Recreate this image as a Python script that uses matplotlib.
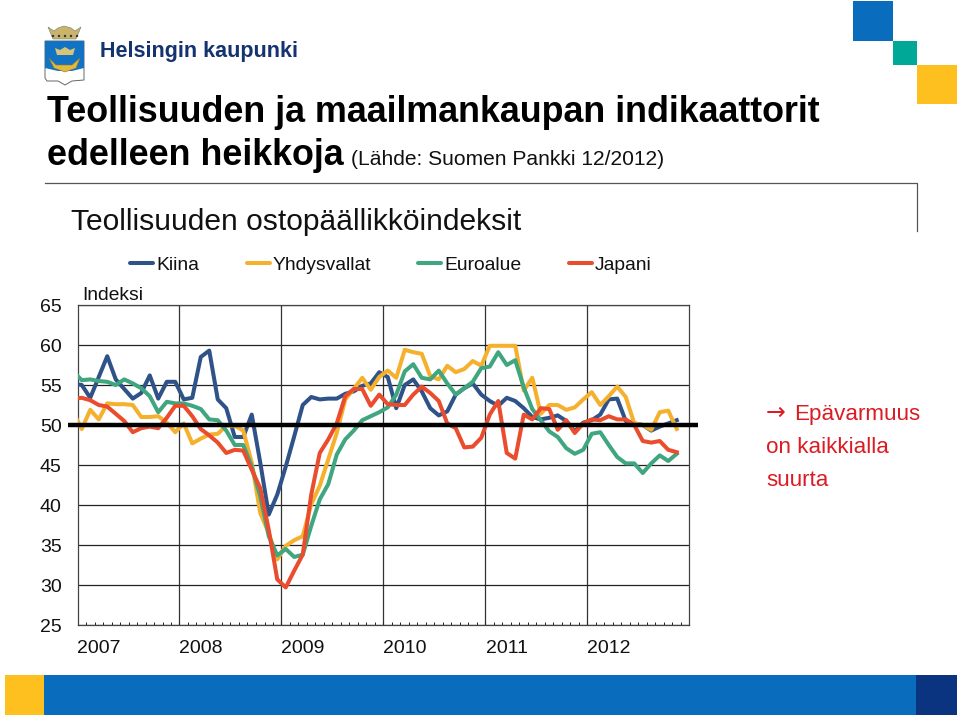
import numpy as np
import matplotlib
matplotlib.use('Agg')
import matplotlib.pyplot as plt
from matplotlib.patches import Rectangle, Polygon, Circle

plt.rcParams['font.family'] = ['Liberation Sans', 'DejaVu Sans']

years = ['2007', '2008', '2009', '2010', '2011', '2012']
y_ticks = [25, 30, 35, 40, 45, 50, 55, 60, 65]

# monthly index values, first one is Dec 2006 (cut off by the axis)
kiina = [55.2, 55.0, 53.4, 56.0, 58.6, 55.7, 54.5, 53.3, 54.0, 56.2, 53.3, 55.4, 55.4,
         53.2, 53.4, 58.5, 59.3, 53.2, 52.1, 48.5, 48.5, 51.3, 45.3, 38.8, 41.3,
         44.8, 48.6, 52.5, 53.5, 53.2, 53.3, 53.3, 53.9, 54.2, 54.9, 55.2, 56.6,
         56.0, 52.1, 55.0, 55.7, 54.2, 52.1, 51.2, 51.7, 53.8, 54.6, 55.2, 53.8,
         53.0, 52.4, 53.4, 53.0, 52.1, 51.0, 50.7, 50.9, 51.2, 50.5, 49.2, 50.3,
         50.6, 51.3, 53.2, 53.3, 50.5, 50.2, 50.0, 49.3, 49.8, 50.2, 50.6]
yhdysvallat = [51.6, 49.5, 51.9, 50.7, 52.7, 52.6, 52.6, 52.5, 51.0, 51.0, 51.1, 50.3, 49.1,
               50.2, 47.7, 48.3, 48.8, 48.9, 49.9, 49.9, 49.3, 45.3, 39.0, 36.5, 33.2,
               34.9, 35.6, 36.1, 40.1, 42.4, 45.7, 49.0, 53.2, 54.5, 55.9, 54.4, 56.0,
               56.8, 55.9, 59.4, 59.1, 58.9, 56.1, 55.7, 57.4, 56.6, 57.0, 58.0, 57.4,
               59.9, 59.9, 59.9, 59.9, 54.3, 55.9, 51.4, 52.5, 52.5, 51.9, 52.2, 53.2,
               54.1, 52.5, 53.6, 54.8, 53.5, 50.2, 50.0, 49.4, 51.6, 51.8, 49.5]
euroalue = [56.7, 55.6, 55.7, 55.5, 55.4, 55.0, 55.7, 55.2, 54.6, 53.6, 51.6, 52.9, 52.7,
            52.7, 52.4, 52.0, 50.7, 50.6, 49.3, 47.5, 47.5, 44.8, 41.1, 36.1, 33.7,
            34.5, 33.5, 33.8, 37.4, 40.7, 42.6, 46.3, 48.2, 49.3, 50.6, 51.1, 51.6,
            52.2, 53.8, 56.7, 57.6, 55.9, 55.7, 56.8, 55.2, 53.8, 54.6, 55.4, 57.1,
            57.3, 59.1, 57.5, 58.1, 54.7, 52.0, 50.6, 49.2, 48.5, 47.1, 46.4, 46.9,
            48.9, 49.1, 47.5, 46.0, 45.2, 45.2, 44.0, 45.2, 46.2, 45.5, 46.4]
japani = [53.3, 53.4, 53.1, 52.5, 52.3, 51.4, 50.5, 49.1, 49.6, 49.8, 49.6, 50.9, 52.4,
          52.4, 51.1, 49.5, 48.7, 47.8, 46.5, 46.9, 46.8, 44.4, 42.1, 36.9, 30.7,
          29.7, 31.8, 33.8, 41.3, 46.5, 48.2, 50.2, 53.6, 54.5, 54.5, 52.4, 53.8,
          52.6, 52.5, 52.5, 53.8, 54.8, 54.0, 53.0, 50.2, 49.6, 47.2, 47.3, 48.4,
          51.3, 53.0, 46.5, 45.8, 51.3, 50.7, 52.1, 52.0, 49.4, 50.6, 49.0, 50.2,
          50.7, 50.6, 51.1, 50.7, 50.7, 50.0, 48.0, 47.8, 48.0, 46.9, 46.6]

names = ['Kiina', 'Yhdysvallat', 'Euroalue', 'Japani']
series = [kiina, yhdysvallat, euroalue, japani]
colors = ['#2f5288', '#f5b02e', '#3fa67f', '#ea4c2e']

W, H = 960, 716
fig = plt.figure(figsize=(W / 100, H / 100), dpi=100)

# plot area in pixels
left, right, top, bottom = 77.5, 689.5, 305, 625
ax = fig.add_axes([left / W, 1 - bottom / H, (right - left) / W, (bottom - top) / H])

months = np.arange(len(kiina)) - 0.5
for name, vals, c in zip(names, series, colors):
    ax.plot(months, vals, color=c, lw=2.9, label=name, zorder=3)

ax.set_xlim(0, 72)
ax.set_ylim(25, 65)
ax.set_yticks(y_ticks)
ax.set_xticks(np.arange(len(years)) * 12 + 2.5)
ax.set_xticklabels(years)
ax.set_xticks(np.arange(0, 73), minor=True)
ax.tick_params(axis='x', which='major', length=0, pad=11, labelsize=14, colors='#111111')
ax.tick_params(axis='x', which='minor', length=2.5, width=0.7, direction='in', color='#222222')
ax.tick_params(axis='y', length=0, pad=11.5, labelsize=14, colors='#111111')
ax.grid(True, axis='y', color='#222222', lw=0.9, zorder=1)
for k in range(1, 6):
    ax.axvline(k * 12, color='#333333', lw=0.9, zorder=1)
for s in ax.spines.values():
    s.set_color('#444444')
    s.set_linewidth(0.9)

# page furniture on top, in pixel coordinates
page = fig.add_axes([0, 0, 1, 1], zorder=5)
page.set_xlim(0, W)
page.set_ylim(H, 0)
page.axis('off')
page.patch.set_alpha(0)

# 50 line goes past the plot on both sides
page.plot([68, 698], [425.3, 425.3], color='black', lw=3.2, solid_capstyle='butt')

# corner squares and bottom band
for x, y, w, h, c in [(853, 1, 40, 40, '#0a6cbd'), (893, 41, 24, 24, '#00a898'),
                      (917, 65, 40, 39, '#fdc01e'), (5, 675, 39, 40, '#fdc01e'),
                      (44, 675, 872, 40, '#0a6cbd'), (916, 675, 41, 40, '#0a3480')]:
    page.add_patch(Rectangle((x, y), w, h, fc=c, ec='none'))

# crest
page.add_patch(Polygon([(45, 41), (84, 41), (84, 80), (72, 81), (65, 85), (58, 81), (47, 81), (45, 78)],
                       closed=True, fc='white', ec='#666666', lw=0.7))
page.add_patch(Polygon([(45, 41), (84, 41), (84, 68), (72, 71), (58, 71), (45, 68)],
                       closed=True, fc='#1273c4', ec='none'))
page.add_patch(Polygon([(48, 27), (54, 31), (58, 28), (64, 26), (71, 28), (75, 31), (81, 27), (76, 39), (53, 39)],
                       closed=True, fc='#c9b46a', ec='#777777', lw=0.4))
for cx in [53, 59, 65, 71, 77]:
    page.add_patch(Circle((cx, 36), 1.2, fc='#333333', ec='none'))
page.add_patch(Polygon([(55, 48), (60, 50), (65, 47), (70, 50), (75, 48), (73, 55), (57, 55)],
                       closed=True, fc='#d6c47a', ec='none'))
page.add_patch(Polygon([(49, 58), (56, 65), (72, 65), (80, 58), (76, 68), (65, 72), (54, 68)],
                       closed=True, fc='#e3b93c', ec='#8a7a30', lw=0.4))
page.text(100, 57, 'Helsingin kaupunki', fontsize=15.5, fontweight='bold', color='#14336f', va='baseline')

page.text(47, 122.5, 'Teollisuuden ja maailmankaupan indikaattorit', fontsize=25.8, fontweight='bold',
          va='baseline', color='black')
page.text(47, 165, 'edelleen heikkoja', fontsize=25.8, fontweight='bold', va='baseline', color='black')
page.text(351, 165, '(Lähde: Suomen Pankki 12/2012)', fontsize=15.1, va='baseline', color='#111111')

page.plot([45, 917, 917], [183, 183, 231], color='#555555', lw=0.9)
page.text(71, 230, 'Teollisuuden ostopäällikköindeksit', fontsize=21.6, va='baseline', color='#111111')

# legend row
for name, c, x0 in zip(names, colors, [130, 247, 418, 569]):
    page.plot([x0, x0 + 23], [263, 263], color=c, lw=2.9, solid_capstyle='round')
    page.text(x0 + 26, 270, name, fontsize=13.9, va='baseline', color='#111111')

page.text(82, 300.5, 'Indeksi', fontsize=13.9, va='baseline', color='#111111')

red = '#dc1c24'
page.text(766, 420, '\u2192', fontsize=17, va='baseline', color=red, family='DejaVu Sans')
page.text(794, 420, 'Epävarmuus', fontsize=16.1, va='baseline', color=red)
page.text(766, 453, 'on kaikkialla', fontsize=16.1, va='baseline', color=red)
page.text(766, 486.5, 'suurta', fontsize=16.1, va='baseline', color=red)

fig.savefig('out.png', dpi=100)
